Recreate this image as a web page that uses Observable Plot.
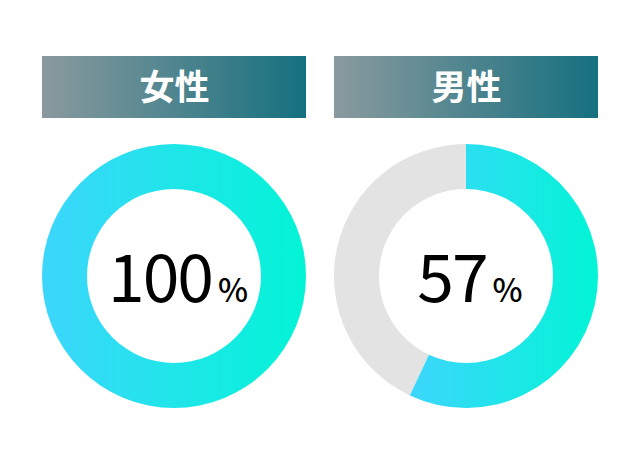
<!DOCTYPE html>
<html><head><meta charset="utf-8">
<script src="https://cdn.jsdelivr.net/npm/d3@7"></script>
<script src="https://cdn.jsdelivr.net/npm/@observablehq/plot@0.6"></script>
<style>body{margin:0;background:#fff}svg{display:block}</style>
</head><body><div id="chart"></div>
<script>
const categories = ["女性", "男性"];
const percents = [100, 57];
const unit = "%";

const data = categories.map((c, i) => ({label: c, value: percents[i]}));

const headerTop = 56, headerH = 62;
const cy = 276, outerR = 132, innerR = 87;

function bandInfo(x, d) {
  const x0 = x(d.label);
  const bw = x.bandwidth ? x.bandwidth() : 264;
  return {x0, bw, cx: x0 + bw / 2};
}

const headerMark = (index, scales, values, dims, context) => {
  const doc = context.document;
  const g = d3.select(doc.createElementNS("http://www.w3.org/2000/svg", "g"));
  const defs = g.append("defs");
  const lg = defs.append("linearGradient").attr("id", "hdrGrad").attr("x1", 0).attr("x2", 1).attr("y1", 0).attr("y2", 0);
  lg.append("stop").attr("offset", "0%").attr("stop-color", "#8a9a9e");
  lg.append("stop").attr("offset", "100%").attr("stop-color", "#15707f");
  const dg = defs.append("linearGradient").attr("id", "donutGrad").attr("x1", 0).attr("x2", 1).attr("y1", 0).attr("y2", 0);
  dg.append("stop").attr("offset", "0%").attr("stop-color", "#3dd6fc");
  dg.append("stop").attr("offset", "100%").attr("stop-color", "#02f4d6");
  for (const d of data) {
    const {x0, bw} = bandInfo(scales.x, d);
    g.append("rect").attr("x", x0).attr("y", headerTop).attr("width", bw).attr("height", headerH).attr("fill", "url(#hdrGrad)");
  }
  return g.node();
};

const donutMark = (index, scales, values, dims, context) => {
  const doc = context.document;
  const g = d3.select(doc.createElementNS("http://www.w3.org/2000/svg", "g"));
  const arc = d3.arc().innerRadius(innerR).outerRadius(outerR);
  for (const d of data) {
    const {cx} = bandInfo(scales.x, d);
    const gg = g.append("g").attr("transform", `translate(${cx},${cy})`);
    const a = 2 * Math.PI * d.value / 100;
    if (d.value < 100) {
      gg.append("path").attr("d", arc({startAngle: a, endAngle: 2 * Math.PI})).attr("fill", "#e3e3e3");
    }
    gg.append("path").attr("d", arc({startAngle: 0, endAngle: a})).attr("fill", "url(#donutGrad)");
  }
  return g.node();
};

const valueMark = (index, scales, values, dims, context) => {
  const doc = context.document;
  const g = d3.select(doc.createElementNS("http://www.w3.org/2000/svg", "g"));
  for (const d of data) {
    const {cx} = bandInfo(scales.x, d);
    const t = g.append("text").attr("x", cx + 4).attr("y", cy + 26).attr("text-anchor", "middle")
      .attr("font-family", "'Noto Sans CJK JP','Noto Sans',sans-serif").attr("fill", "#000");
    t.append("tspan").attr("font-size", 66).attr("font-weight", 400).attr("letter-spacing", -2).text(d.value);
    t.append("tspan").attr("font-size", 32).attr("font-weight", 500).attr("dx", 6).text(unit);
  }
  return g.node();
};

const chart = Plot.plot({
  width: 640,
  height: 470,
  margin: 0,
  x: {type: "band", domain: categories, range: [42, 598], paddingInner: 28 / 292, paddingOuter: 0, axis: null},
  marks: [
    headerMark,
    donutMark,
    Plot.text(data, {
      x: "label", text: "label", frameAnchor: "top", lineAnchor: "middle", dy: 88,
      fill: "#fff", fontSize: 35, fontWeight: 700,
      fontFamily: "'Noto Sans CJK JP', sans-serif"
    }),
    valueMark
  ]
});
document.getElementById("chart").append(chart);
</script>
</body></html>
